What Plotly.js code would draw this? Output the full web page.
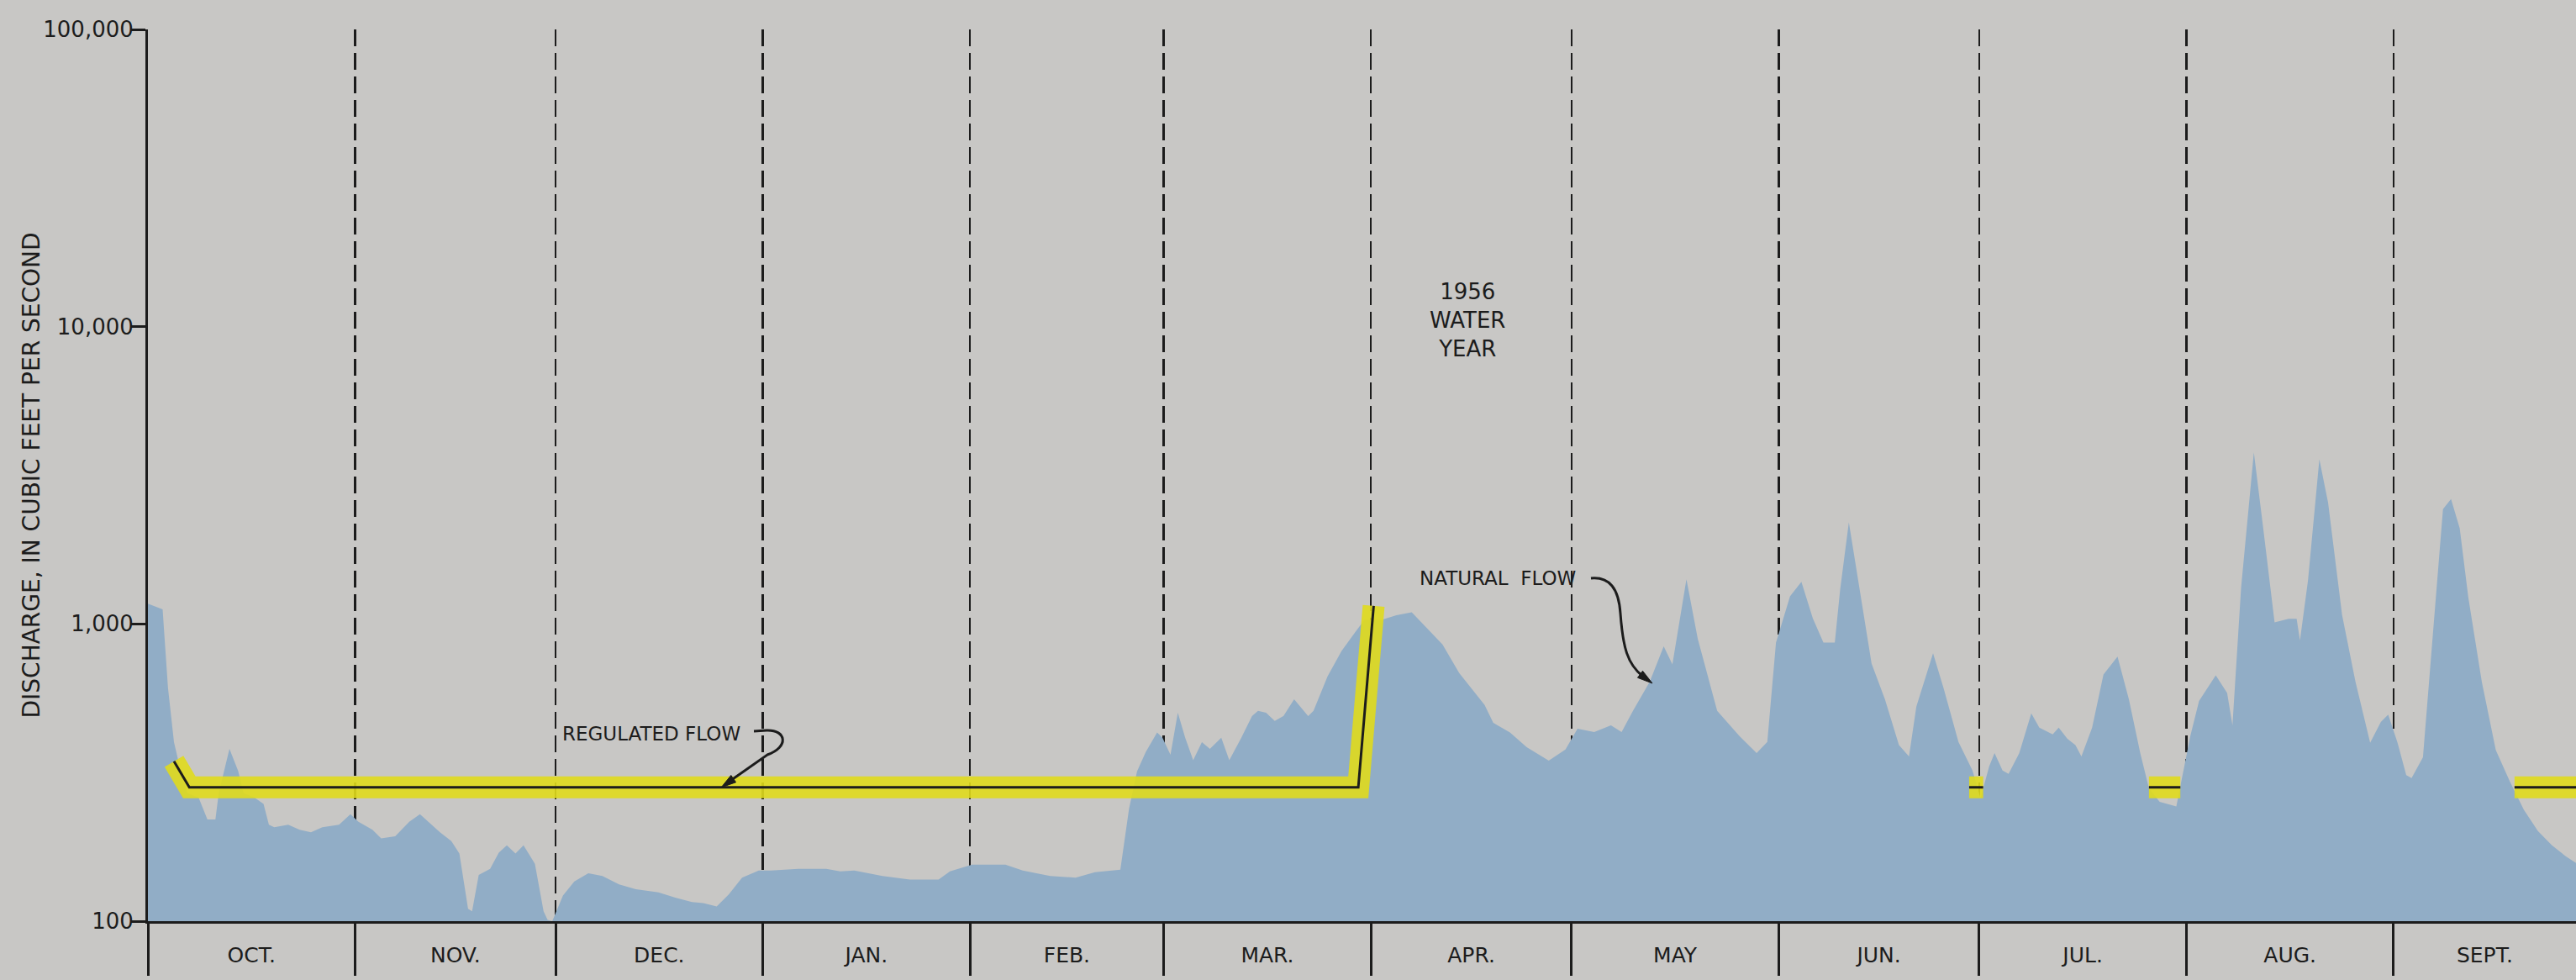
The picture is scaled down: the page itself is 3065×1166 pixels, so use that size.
<!DOCTYPE html>
<html>
<head>
<meta charset="utf-8">
<script src="https://cdn.plot.ly/plotly-3.0.1.min.js"></script>
<style>
  html, body { margin: 0; padding: 0; background: #c8c7c5; }
  #chart { width: 3065px; height: 1166px; }
</style>
</head>
<body>
<div id="chart"></div>
<script>
// ---- Data (day of 1956 water year, starting 1 Oct 1955 = day 0; discharge in cfs) ----
const monthNames = ["OCT.", "NOV.", "DEC.", "JAN.", "FEB.", "MAR.", "APR.", "MAY", "JUN.", "JUL.", "AUG.", "SEPT."];
const monthDays  = [31, 30, 31, 31, 29, 31, 30, 31, 30, 31, 31, 30];

const natDay = [
  0, 2.2, 3.0, 3.9, 4.7, 5.9, 7.6, 8.9, 10.1, 10.6, 12.2, 13.5, 14.3, 16.0, 17.3, 18.1, 18.9, 21.0, 22.7, 24.4,
  26.1, 28.6, 30.3, 31.5, 33.6, 34.9, 37.0, 39.1, 40.7, 42.4, 43.7, 45.4, 46.6, 47.9, 48.5, 49.5, 51.2, 52.5, 53.7, 55.0,
  56.2, 57.9, 59.2, 59.8,
  60.5, 62.1, 63.8, 65.9, 68.0, 70.5, 73.0, 76.4, 78.9, 81.4, 83.1, 85.1, 86.9, 88.9, 91.4, 93.2, 97.3, 101.5, 103.6, 105.7,
  109.9, 114.0, 118.3, 120.0,
  123.3, 128.3, 130.9, 135.0, 138.8, 141.7, 145.5, 146.8, 148.0, 149.3, 151.0, 151.8, 153.0, 154.1, 155.2, 156.4, 157.7, 158.9, 160.6, 161.8,
  163.6, 165.2, 166.1, 167.3, 168.6, 169.9, 171.5, 173.6, 174.4, 176.5, 178.6, 180.7, 182.0,
  184.5, 186.8, 189.1, 191.2, 193.7, 196.2, 198.3, 200.0, 201.3, 203.8, 206.3, 209.6, 212.1, 213.9, 216.4, 218.9, 220.5, 222.2, 224.7, 226.8,
  228.1, 230.2, 231.9, 234.8, 238.1,
  240.7, 242.3, 243.6, 245.7, 247.4, 249.1, 250.7, 252.4, 253.2, 254.5, 256.2, 257.9, 259.9, 262.0, 263.5, 264.6, 267.1, 268.7, 270.9, 273.0,
  274.2, 275.5, 276.3, 277.5, 278.4, 280.0, 281.8, 283.0, 285.0, 285.9, 287.2, 288.4, 289.3, 290.9, 292.6, 294.7, 296.4, 298.1, 299.4, 301.0,
  303.5, 305.6, 306.9, 309.4, 311.1, 311.9, 313.2, 315.1, 316.5, 318.2, 320.3, 321.5, 322.0, 323.2, 324.9, 326.2, 328.3, 330.3, 332.5, 334.1,
  335.2, 336.6, 337.9, 338.7, 340.4, 342.1, 343.4, 344.6, 345.9, 347.2, 349.2, 351.3, 353.4, 355.5, 357.6, 359.7, 361.8, 363.3
];
const natFlow = [
  1170, 1120, 610, 400, 335, 270, 260, 220, 220, 270, 380, 320, 270, 260, 248, 211, 207, 211, 203, 199,
  207, 211, 229, 216, 203, 190, 193, 216, 229, 211, 199, 186, 169, 110, 108, 143, 150, 170, 180, 169,
  180, 156, 108, 101,
  100, 122, 136, 145, 142, 133, 128, 125, 120, 116, 115, 112, 123, 140, 148, 148, 150, 150, 147, 148,
  142, 138, 138, 147,
  155, 155, 148, 142, 140, 146, 149, 239, 319, 371, 431, 414, 363, 503, 414, 348, 400, 380, 414, 348,
  414, 490, 510, 503, 472, 490, 558, 490, 510, 666, 811, 942, 1030,
  1031, 1070, 1094, 977, 853, 684, 597, 534, 465, 431, 385, 347, 378, 444, 433, 456, 433, 510, 638, 840,
  731, 1413, 890, 510, 420,
  368, 401, 865, 1238, 1385, 1045, 865, 865, 1304, 2197, 1270, 736, 558, 391, 358, 527, 797, 605, 401, 321,
  259, 332, 368, 321, 313, 368, 500, 448, 425, 448, 411, 391, 358, 448, 676, 776, 558, 368, 280, 252,
  243, 420, 551, 671, 586, 456, 1330, 3776, 2099, 1012, 1040, 1040, 880, 1400, 3580, 2565, 1072, 640, 398, 468,
  495, 398, 310, 303, 356, 1072, 2432, 2630, 2099, 1222, 640, 376, 295, 237, 201, 180, 165, 157
];

// Regulated flow: only drawn where it differs from natural flow
const regDay  = [3.9, 6.2, 181.1, 183.4, null, 272.5, 274.6, null, 299.4, 304.1, null, 354.1, 363.3];
const regFlow = [345, 282, 282, 1150, null, 282, 282, null, 282, 282, null, 282, 282];

const yTickVals = [100, 1000, 10000, 100000];
const yTickText = ["100", "1,000", "10,000", "100,000"];

// ---- Derived axis helpers ----
const xMax = 363.3;
const monthStarts = [];
let acc = 0;
for (const d of monthDays) { monthStarts.push(acc); acc += d; }
const monthMids = monthStarts.map((s, i) => (s + Math.min(s + monthDays[i], xMax)) / 2);

// plot-area pixel frame (for annotation placement)
const W = 3065, H = 1166, L = 176, R = 0, T = 35, B = 70;
const PW = W - L - R, PH = H - T - B;
const px = X => (X - L) / PW;
const py = Y => (T + PH - Y) / PH;
const P = (X, Y) => px(X).toFixed(5) + "," + py(Y).toFixed(5);

const INK = "#1c1c1c";
const FONT = "DejaVu Sans";

const traces = [
  {
    x: natDay, y: natFlow, type: "scatter", mode: "lines",
    line: { width: 0, color: "#91adc6" },
    fill: "tozeroy", fillcolor: "#91adc6",
    hoverinfo: "skip", showlegend: false
  },
  {
    x: regDay, y: regFlow, type: "scatter", mode: "lines",
    line: { width: 26, color: "rgba(224,218,28,0.9)" },
    connectgaps: false, hoverinfo: "skip", showlegend: false
  },
  {
    x: regDay, y: regFlow, type: "scatter", mode: "lines",
    line: { width: 3, color: INK },
    connectgaps: false, hoverinfo: "skip", showlegend: false
  },
  {
    x: monthMids, y: monthMids.map(() => null), xaxis: "x2", type: "scatter", mode: "markers",
    hoverinfo: "skip", showlegend: false
  }
];

const layout = {
  width: W, height: H,
  margin: { l: L, r: R, t: T, b: B, pad: 0 },
  paper_bgcolor: "#c8c7c5",
  plot_bgcolor: "#c8c7c5",
  font: { family: FONT, color: INK },
  showlegend: false,
  xaxis: {
    type: "linear", range: [0, xMax], fixedrange: true,
    tickmode: "array", tickvals: monthStarts, showticklabels: false,
    ticks: "outside", ticklen: 62, tickwidth: 3, tickcolor: INK,
    showgrid: true, gridcolor: INK, gridwidth: 2.5, griddash: "20px,8px",
    showline: true, linecolor: INK, linewidth: 3, zeroline: false
  },
  xaxis2: {
    overlaying: "x", anchor: "y", side: "bottom",
    type: "linear", range: [0, xMax], fixedrange: true,
    tickmode: "array", tickvals: monthMids, ticktext: monthNames,
    ticks: "outside", ticklen: 18, tickcolor: "rgba(0,0,0,0)",
    tickfont: { family: FONT, size: 25, color: INK },
    showgrid: false, showline: false, zeroline: false
  },
  yaxis: {
    type: "log", range: [2, 5], fixedrange: true,
    tickmode: "array", tickvals: yTickVals, ticktext: yTickText,
    ticks: "outside", ticklen: 17, tickwidth: 3, tickcolor: INK,
    ticklabelstandoff: -8,
    tickfont: { family: FONT, size: 26, color: INK },
    showgrid: false, showline: true, linecolor: INK, linewidth: 3, zeroline: false
  },
  annotations: [
    {
      text: "DISCHARGE, IN CUBIC FEET PER SECOND", textangle: -90,
      xref: "paper", yref: "paper", x: px(37), y: 0.5,
      xanchor: "center", yanchor: "middle", showarrow: false,
      font: { family: FONT, size: 28, color: INK }
    },
    {
      text: "1956<br>WATER<br>YEAR",
      xref: "paper", yref: "paper", x: px(1746), y: py(381),
      xanchor: "center", yanchor: "middle", align: "center", showarrow: false,
      font: { family: FONT, size: 26, color: INK }
    },
    {
      text: "REGULATED FLOW",
      xref: "paper", yref: "paper", x: px(667), y: py(873),
      xanchor: "left", yanchor: "middle", showarrow: false,
      font: { family: FONT, size: 23, color: INK }
    },
    {
      text: "NATURAL\u00a0\u00a0FLOW",
      xref: "paper", yref: "paper", x: px(1687), y: py(688),
      xanchor: "left", yanchor: "middle", showarrow: false,
      font: { family: FONT, size: 23, color: INK }
    }
  ],
  shapes: [
    {
      type: "path", xref: "paper", yref: "paper",
      path: "M" + P(897, 870) + " L" + P(912, 869) + " C" + P(936, 868) + " " + P(939, 889) + " " + P(913, 898) + " L" + P(866, 931),
      line: { color: INK, width: 3 }
    },
    {
      type: "path", xref: "paper", yref: "paper",
      path: "M" + P(858, 937) + " L" + P(875.6, 930.7) + " L" + P(869.8, 922.5) + " Z",
      fillcolor: INK, line: { color: INK, width: 1 }
    },
    {
      type: "path", xref: "paper", yref: "paper",
      path: "M" + P(1893, 688) + " C" + P(1915, 686) + " " + P(1926, 700) + " " + P(1928, 730) +
            " C" + P(1931, 770) + " " + P(1936, 790) + " " + P(1955, 805),
      line: { color: INK, width: 3 }
    },
    {
      type: "path", xref: "paper", yref: "paper",
      path: "M" + P(1966, 813) + " L" + P(1948.5, 806.3) + " L" + P(1954.5, 798.3) + " Z",
      fillcolor: INK, line: { color: INK, width: 1 }
    }
  ]
};

Plotly.newPlot("chart", traces, layout, { staticPlot: true, displayModeBar: false });
</script>
</body>
</html>
